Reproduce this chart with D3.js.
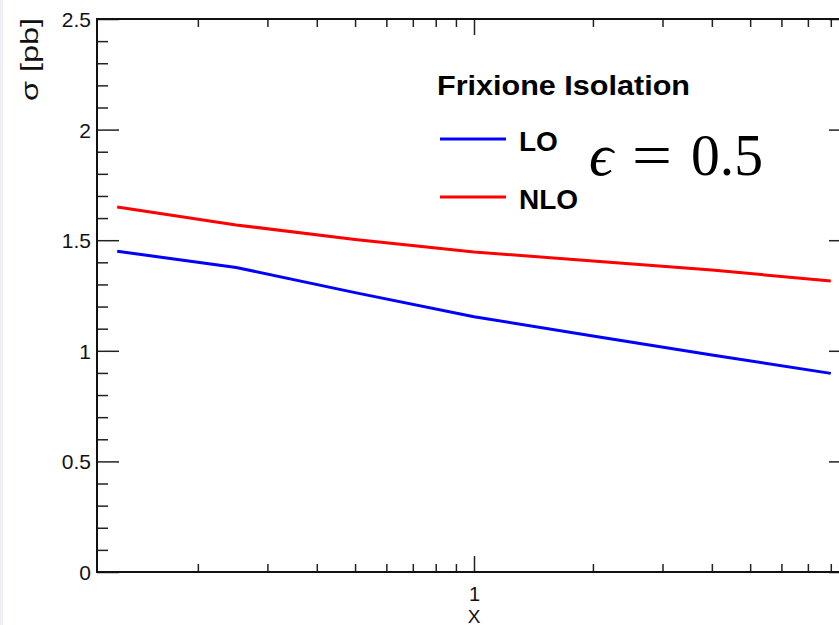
<!DOCTYPE html>
<html>
<head>
<meta charset="utf-8">
<script src="https://cdn.jsdelivr.net/npm/d3@7"></script>
<style>
  body { margin: 0; background: #fff; }
  svg { display: block; }
  text { font-family: "Liberation Sans", Arial, Helvetica, sans-serif; }
</style>
</head>
<body>
<div id="chart"></div>
<script>
// values
const xValues = [0.125, 0.25, 0.5, 1, 2, 4, 8];
const loValues = [1.450, 1.377, 1.263, 1.154, 1.067, 0.981, 0.898];
const nloValues = [1.650, 1.569, 1.503, 1.447, 1.406, 1.365, 1.316];
const seriesNames = ["LO", "NLO"];
const seriesColors = ["#0000ff", "#ff0000"];
const yMajorTicks = [0, 0.5, 1, 1.5, 2, 2.5];
const yMinorTicks = [0.1, 0.2, 0.3, 0.4, 0.6, 0.7, 0.8, 0.9, 1.1, 1.2, 1.3, 1.4, 1.6, 1.7, 1.8, 1.9, 2.1, 2.2, 2.3, 2.4];
const xMajorTicks = [1];
const xMinorTicks = [0.2, 0.3, 0.4, 0.5, 0.6, 0.7, 0.8, 0.9, 2, 3, 4, 5, 6, 7, 8];

const width = 839, height = 625;
const frame = { left: 97, right: 851, top: 19, bottom: 572 };

const svg = d3.select("#chart").append("svg")
    .attr("width", width)
    .attr("height", height);

// faint strip on left edge of the screenshot
svg.append("rect").attr("x", 0).attr("y", 0).attr("width", 3).attr("height", height).attr("fill", "#eef0f3");

const x = d3.scaleLog().domain([1 / 9, 9]).range([frame.left, frame.right]);
const y = d3.scaleLinear().domain([0, 2.5]).range([frame.bottom, frame.top]);

function styleAxis(g) {
    g.select(".domain").remove();
    g.selectAll(".tick line").attr("stroke", "#222").attr("stroke-width", 1.5);
    g.selectAll("text").attr("fill", "#111").style("font-family", "'Liberation Sans', Arial, sans-serif");
}

// y axis left, major + minor
svg.append("g").attr("transform", `translate(${frame.left},0)`)
    .call(d3.axisLeft(y).tickValues(yMajorTicks).tickSize(-22).tickSizeOuter(0).tickPadding(6)
        .tickFormat(d => d3.format("")(d)))
    .call(styleAxis)
    .selectAll("text").style("font-size", "21px").attr("dy", "0.36em");
svg.append("g").attr("transform", `translate(${frame.left},0)`)
    .call(d3.axisLeft(y).tickValues(yMinorTicks).tickSize(-11).tickSizeOuter(0).tickFormat(""))
    .call(styleAxis);

// y axis right (ticks only)
svg.append("g").attr("transform", `translate(${frame.right},0)`)
    .call(d3.axisRight(y).tickValues(yMajorTicks).tickSize(-22).tickSizeOuter(0).tickFormat(""))
    .call(styleAxis);
svg.append("g").attr("transform", `translate(${frame.right},0)`)
    .call(d3.axisRight(y).tickValues(yMinorTicks).tickSize(-11).tickSizeOuter(0).tickFormat(""))
    .call(styleAxis);

// x axis bottom
svg.append("g").attr("transform", `translate(0,${frame.bottom})`)
    .call(d3.axisBottom(x).tickValues(xMajorTicks).tickSize(-16).tickSizeOuter(0).tickPadding(15)
        .tickFormat(d3.format("")))
    .call(styleAxis)
    .selectAll("text").style("font-size", "20px");
svg.append("g").attr("transform", `translate(0,${frame.bottom})`)
    .call(d3.axisBottom(x).tickValues(xMinorTicks).tickSize(-8).tickSizeOuter(0).tickFormat(""))
    .call(styleAxis);

// x axis top (ticks only)
svg.append("g").attr("transform", `translate(0,${frame.top})`)
    .call(d3.axisTop(x).tickValues(xMajorTicks).tickSize(-16).tickSizeOuter(0).tickFormat(""))
    .call(styleAxis);
svg.append("g").attr("transform", `translate(0,${frame.top})`)
    .call(d3.axisTop(x).tickValues(xMinorTicks).tickSize(-8).tickSizeOuter(0).tickFormat(""))
    .call(styleAxis);

// frame
svg.append("rect")
    .attr("x", frame.left).attr("y", frame.top)
    .attr("width", frame.right - frame.left).attr("height", frame.bottom - frame.top)
    .attr("fill", "none").attr("stroke", "#111").attr("stroke-width", 2);

// curves
const line = d3.line().x(d => x(d[0])).y(d => y(d[1]));
[loValues, nloValues].forEach((vals, i) => {
    svg.append("path")
        .datum(xValues.map((xv, j) => [xv, vals[j]]))
        .attr("d", line)
        .attr("fill", "none")
        .attr("stroke", seriesColors[i])
        .attr("stroke-width", 3);
});

// axis titles
svg.append("text")
    .attr("transform", "translate(38,18) rotate(-90)")
    .attr("text-anchor", "end")
    .attr("textLength", 83)
    .attr("lengthAdjust", "spacingAndGlyphs")
    .style("font-size", "23px")
    .attr("fill", "#111")
    .text("σ [pb]");

svg.append("text")
    .attr("x", x(1)).attr("y", 623)
    .attr("text-anchor", "middle")
    .style("font-size", "19px")
    .attr("fill", "#111")
    .text("X");

// legend
svg.append("text")
    .attr("x", 437).attr("y", 95)
    .attr("textLength", 253)
    .attr("lengthAdjust", "spacingAndGlyphs")
    .style("font-size", "28px").style("font-weight", "bold")
    .text("Frixione Isolation");

const legendY = [139, 197];
seriesNames.forEach((name, i) => {
    svg.append("line")
        .attr("x1", 440).attr("x2", 506)
        .attr("y1", legendY[i]).attr("y2", legendY[i])
        .attr("stroke", seriesColors[i]).attr("stroke-width", 3);
    svg.append("text")
        .attr("x", 519).attr("y", legendY[i] + 12)
        .style("font-size", "28px").style("font-weight", "bold")
        .text(name);
});

// epsilon annotation
const eps = svg.append("g");
eps.append("text").attr("x", 589).attr("y", 175)
    .style("font-family", "'Liberation Serif', serif").style("font-style", "italic").style("font-size", "60px")
    .text("ϵ");
eps.append("text").attr("x", 632).attr("y", 175)
    .attr("textLength", 40).attr("lengthAdjust", "spacingAndGlyphs")
    .style("font-family", "'Liberation Serif', serif").style("font-size", "60px")
    .text("=");
eps.append("text").attr("x", 691).attr("y", 175)
    .attr("textLength", 72).attr("lengthAdjust", "spacingAndGlyphs")
    .style("font-family", "'Liberation Serif', serif").style("font-size", "59px")
    .text("0.5");
</script>
</body>
</html>
